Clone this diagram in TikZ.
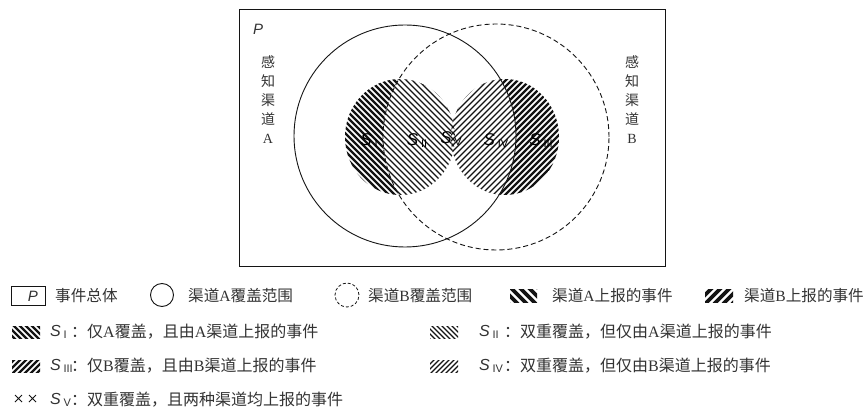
\documentclass[tikz,border=0pt]{standalone}
\usepackage{fontspec}
\setmainfont{Noto Sans CJK SC}
\newfontfamily\tms{Liberation Serif}
\newfontfamily\ars{Liberation Sans}
\newcommand\LA{{\tms A}}
\newcommand\LB{{\tms B}}
\newcommand\SubS[1]{{\ars\itshape S}\,\raisebox{-2pt}{\ars\fontsize{11}{11}\selectfont #1}}
\definecolor{tx}{gray}{0.2}
\definecolor{ln}{gray}{0.08}
\begin{document}
\begin{tikzpicture}[x=1pt,y=-1pt,
  lbl/.style={anchor=west,inner sep=0pt,text=tx,font=\fontsize{16}{18}\selectfont},
  toplbl/.style={anchor=west,inner sep=0pt,text=tx,font=\fontsize{15.6}{18}\selectfont},
  slbl/.style={anchor=west,inner sep=0pt,text=tx,font=\fontsize{16}{18}\selectfont},
  inlbl/.style={inner sep=0pt,text=black,font=\fontsize{17}{18}\selectfont},
  vlbl/.style={align=center,inner sep=0pt,text=tx,font=\fontsize{14}{19}\selectfont},
  thickh/.style={line width=2.4pt,draw=ln},
  thinh/.style={line width=1.3pt,draw=ln},
  frame/.style={draw=ln,line width=0.9pt},
  chanA/.style={draw=ln,line width=0.9pt},
  chanB/.style={draw=ln,line width=0.9pt,dash pattern=on 5pt off 3pt}]
\fill[white] (0,0) rectangle (866,411);
\useasboundingbox (0,0) rectangle (866,411);

% ---------- main diagram ----------
\draw[frame] (239,9) rectangle (665,266);
\node[inner sep=0pt,text=tx,font=\ars\itshape\fontsize{15}{16}\selectfont] (Pmain) at (258,29) {P};
\node[vlbl] (labA) at (268,100) {感\\知\\渠\\道\\\LA};
\node[vlbl] (labB) at (632,100) {感\\知\\渠\\道\\\LB};

% left blob: S_I thick, S_II thin (inside B)
\begin{scope}
  \clip (400,137) ellipse[x radius=55pt,y radius=58pt];
  \foreach \x in {215,221,...,465} \draw[thickh] (\x,75) -- ++(125,125);
  \clip (496,137) circle[radius=113pt];
  \fill[white] (330,70) rectangle (470,205);
  \foreach \x in {215,221,...,465} \draw[thinh] (\x,75) -- ++(125,125);
\end{scope}
% right blob: S_III thick, S_IV thin (inside A)
\begin{scope}
  \clip (505,137) ellipse[x radius=54pt,y radius=58pt];
  \foreach \x in {320,326,...,570} \draw[thickh] (\x,200) -- ++(125,-125);
  \clip (405,136) circle[radius=111pt];
  \fill[white] (440,70) rectangle (570,205);
  \foreach \x in {320,326,...,570} \draw[thinh] (\x,200) -- ++(125,-125);
\end{scope}
% overlap: S_V cross hatching
\begin{scope}
  \clip (400,137) ellipse[x radius=55pt,y radius=58pt];
  \clip (505,137) ellipse[x radius=54pt,y radius=58pt];
  \foreach \x in {215,221,...,465} \draw[thinh] (\x,75) -- ++(125,125);
\end{scope}

\draw[chanA] (405,136) circle[radius=111pt];
\draw[chanB] (496,137) circle[radius=113pt];

\node[inlbl] (s1) at (369,141) {\SubS{I}};
\node[inlbl] (s2) at (417,141) {\SubS{II}};
\node[inlbl] (s5) at (451,139) {\SubS{V}};
\node[inlbl] (s4) at (496,141) {\SubS{IV}};
\node[inlbl] (s3) at (541,141) {\SubS{III}};

% ---------- legend row 1 ----------
\draw[frame] (11,286) rectangle (45,305);
\node[inner sep=0pt,text=tx,font=\ars\itshape\fontsize{15}{16}\selectfont] (Pleg) at (33,296) {P};
\node[toplbl] (t1) at (55,296) {事件总体};
\draw[chanA] (162,295) circle[radius=11.5pt];
\node[toplbl] (t2) at (188,296) {渠道\LA 覆盖范围};
\draw[draw=ln,line width=0.8pt,dash pattern=on 3pt off 2pt] (347,295) circle[radius=12pt];
\node[toplbl] (t3) at (368,296) {渠道\LB 覆盖范围};
\begin{scope}
  \clip (510,289) rectangle (537,302);
  \foreach \x in {492,501,...,540} \draw[line width=3.6pt,draw=ln] (\x,287) -- ++(17,17);
\end{scope}
\node[toplbl] (t4) at (552,296) {渠道\LA 上报的事件};
\begin{scope}
  \clip (705,289) rectangle (733,302);
  \foreach \x in {687,696,...,735} \draw[line width=3.6pt,draw=ln] (\x,304) -- ++(17,-17);
\end{scope}
\node[toplbl] (t5) at (744,296) {渠道\LB 上报的事件};

% ---------- legend rows 2-4 ----------
\begin{scope}
  \clip (12,326) rectangle (40,338);
  \foreach \x in {-6,0,...,42} \draw[line width=2.4pt,draw=ln] (\x,324) -- ++(16,16);
\end{scope}
\node[slbl] (k1) at (50,332) {\SubS{I}};
\node[lbl] (d1) at (71,332) {：仅\LA 覆盖，且由\LA 渠道上报的事件};

\begin{scope}
  \clip (430,326) rectangle (458,338);
  \foreach \x in {410,415,...,460} \draw[line width=1.1pt,draw=ln] (\x,324) -- ++(16,16);
\end{scope}
\node[slbl] (k2) at (479,332) {\SubS{II}};
\node[lbl] (d2) at (504,332) {：双重覆盖，但仅由\LA 渠道上报的事件};

\begin{scope}
  \clip (12,360) rectangle (40,372);
  \foreach \x in {-6,0,...,42} \draw[line width=2.4pt,draw=ln] (\x,374) -- ++(16,-16);
\end{scope}
\node[slbl] (k3) at (50,366) {\SubS{III}};
\node[lbl] (d3) at (71,366) {：仅\LB 覆盖，且由\LB 渠道上报的事件};

\begin{scope}
  \clip (430,360) rectangle (458,372);
  \foreach \x in {410,415,...,460} \draw[line width=1.1pt,draw=ln] (\x,374) -- ++(16,-16);
\end{scope}
\node[slbl] (k4) at (479,366) {\SubS{IV}};
\node[lbl] (d4) at (504,366) {：双重覆盖，但仅由\LB 渠道上报的事件};

\draw[draw=ln,line width=0.8pt] (15,395) -- (22,402) (15,402) -- (22,395)
  (29,395) -- (36,402) (29,402) -- (36,395);
\node[slbl] (k5) at (50,400) {\SubS{V}};
\node[lbl] (d5) at (71,400) {：双重覆盖，且两种渠道均上报的事件};
\end{tikzpicture}
\end{document}
